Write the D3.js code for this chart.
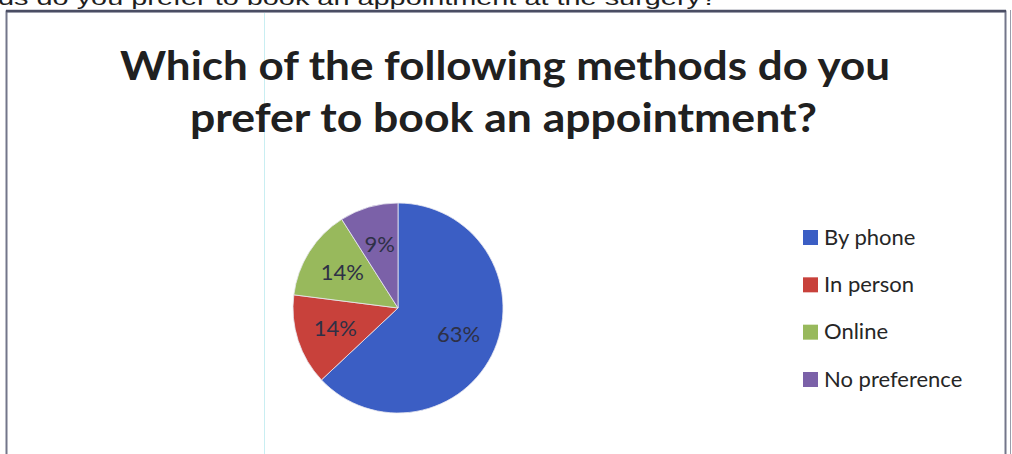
<!DOCTYPE html>
<html>
<head>
<meta charset="utf-8">
<script src="https://cdn.jsdelivr.net/npm/d3@7"></script>
<style>
  html, body { margin: 0; padding: 0; background: #fff; overflow: hidden; }
  svg { display: block; }
</style>
</head>
<body>
<svg id="chart" width="1012" height="454"></svg>
<script>
// Survey answers: preferred way to book an appointment
const categories = ["By phone", "In person", "Online", "No preference"];
const shares = [63, 14, 14, 9];
const sliceColors = ["#3b5ec4", "#c8413b", "#98b95c", "#7b61a8"];
const titleLines = ["Which of the following methods do you", "prefer to book an appointment?"];
const questionText = "ds do you prefer to book an appointment at the surgery?";

const svg = d3.select("#chart");
const W = 1012, H = 454;

// question text running above the chart frame (partly off the top edge)
svg.append("text")
  .attr("x", -2).attr("y", 5)
  .attr("textLength", 719).attr("lengthAdjust", "spacingAndGlyphs")
  .attr("font-family", "Liberation Sans, Arial, sans-serif")
  .attr("font-size", 21).attr("fill", "#1e1e1e")
  .text(questionText);

// chart frame
svg.append("rect")
  .attr("x", 6.5).attr("y", 11.5).attr("width", 999).attr("height", 460)
  .attr("fill", "#fff").attr("stroke", "#73768a").attr("stroke-width", 2);
svg.append("line")
  .attr("x1", 6).attr("x2", 1006).attr("y1", 11).attr("y2", 11)
  .attr("stroke", "#4a4d63").attr("stroke-width", 2.5);
svg.append("line")
  .attr("x1", 1010.5).attr("x2", 1010.5).attr("y1", 10).attr("y2", H)
  .attr("stroke", "#9a9cab").attr("stroke-width", 1);

// faint page guide line
svg.append("line")
  .attr("x1", 264.5).attr("x2", 264.5).attr("y1", 13).attr("y2", H)
  .attr("stroke", "#c9eef2").attr("stroke-width", 1);

// title
const titleWidths = [770, 627];
svg.append("g").selectAll("text")
  .data(titleLines)
  .join("text")
  .attr("x", (d, i) => i === 0 ? 120 : 190)
  .attr("y", (d, i) => 80 + i * 52)
  .attr("textLength", (d, i) => titleWidths[i])
  .attr("lengthAdjust", "spacingAndGlyphs")
  .attr("font-family", "Lato, 'Open Sans', sans-serif")
  .attr("font-weight", "bold")
  .attr("font-size", 41)
  .attr("fill", "#202020")
  .text(d => d);

// pie
const cx = 398, cy = 308, radius = 105;
const data = categories.map((c, i) => ({ name: c, value: shares[i], color: sliceColors[i] }));
const pie = d3.pie().sort(null).value(d => d.value);
const arc = d3.arc().innerRadius(0).outerRadius(radius);
const labelArc = d3.arc().innerRadius(66).outerRadius(66);
const arcs = pie(data);

const g = svg.append("g").attr("transform", `translate(${cx},${cy})`);
g.selectAll("path")
  .data(arcs)
  .join("path")
  .attr("d", arc)
  .attr("fill", d => d.data.color)
  .attr("stroke", "#e8e8f0")
  .attr("stroke-width", 0.8);

g.selectAll("text")
  .data(arcs)
  .join("text")
  .attr("transform", d => `translate(${labelArc.centroid(d)})`)
  .attr("text-anchor", "middle")
  .attr("dy", "0.35em")
  .attr("font-family", "Lato, 'Open Sans', sans-serif")
  .attr("font-size", 22)
  .attr("fill", "#2e3046")
  .text(d => d.data.value + "%");

// legend
const legendY = d3.scalePoint().domain(categories).range([237, 379]);
const legend = svg.append("g").selectAll("g")
  .data(data)
  .join("g")
  .attr("transform", d => `translate(803,${legendY(d.name)})`);
legend.append("rect")
  .attr("x", 0).attr("y", -7).attr("width", 15).attr("height", 15)
  .attr("fill", d => d.color);
legend.append("text")
  .attr("x", 21).attr("y", 0).attr("dy", "0.35em")
  .attr("font-family", "Lato, 'Open Sans', sans-serif")
  .attr("font-size", 22)
  .attr("fill", "#262626")
  .text(d => d.name);
</script>
</body>
</html>
